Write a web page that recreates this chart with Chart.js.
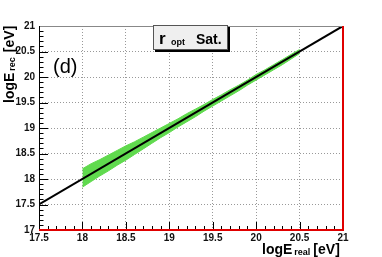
<!DOCTYPE html>
<html>
<head>
<meta charset="utf-8">
<script src="https://cdn.jsdelivr.net/npm/chart.js@4.4.1/dist/chart.umd.min.js"></script>
<style>
  html, body { margin: 0; padding: 0; background: #fff; }
</style>
</head>
<body>
<canvas id="resolution" width="382" height="257"></canvas>
<script>
// band of reconstructed vs real energy (green scatter)
const bandX = [18.0, 18.1, 18.2, 18.3, 18.4, 18.5, 18.6, 18.7, 18.8, 18.9,
  19.0, 19.1, 19.2, 19.3, 19.4, 19.5, 19.6, 19.7, 19.8, 19.9,
  20.0, 20.1, 20.2, 20.3, 20.4, 20.5];
const bandUpper = [18.20, 18.30, 18.38, 18.47, 18.56, 18.65, 18.73, 18.82, 18.91, 19.00,
  19.09, 19.18, 19.28, 19.37, 19.46, 19.56, 19.65, 19.75, 19.84, 19.94,
  20.05, 20.14, 20.24, 20.34, 20.44, 20.54];
const bandLower = [17.84, 17.95, 18.06, 18.16, 18.27, 18.37, 18.48, 18.59, 18.70, 18.81,
  18.91, 19.02, 19.12, 19.22, 19.33, 19.43, 19.53, 19.63, 19.73, 19.84,
  19.94, 20.04, 20.14, 20.24, 20.35, 20.46];

// y = x reference line
const diagX = [17.5, 21];
const diagY = [17.5, 21];

// tick labels
const xTicks = [17.5, 18, 18.5, 19, 19.5, 20, 20.5, 21];
const yTicks = [17, 17.5, 18, 18.5, 19, 19.5, 20, 20.5, 21];

const green = "rgb(96, 218, 78)";
const fontFam = "'Liberation Sans', Arial, Helvetica, sans-serif";

const toPts = (xs, ys) => xs.map((x, i) => ({ x: x, y: ys[i] }));
const fmt = (v) => String(+(+v).toFixed(2));

// frame, minor ticks, titles and the label box, ROOT style
const rootDeco = {
  id: "rootDeco",
  afterDraw(chart) {
    const ctx = chart.ctx;
    const a = chart.chartArea;
    const xs = chart.scales.x;
    const ys = chart.scales.y;
    ctx.save();

    // ticks on left axis
    ctx.strokeStyle = "#000";
    ctx.lineWidth = 1;
    ctx.beginPath();
    for (let i = 0; i <= 40; i++) {
      const v = 17 + i * 0.1;
      const py = Math.round(ys.getPixelForValue(v)) + 0.5;
      const len = i % 5 === 0 ? 9 : 4.5;
      ctx.moveTo(a.left, py);
      ctx.lineTo(a.left + len, py);
    }
    // ticks on bottom axis
    for (let i = 0; i <= 35; i++) {
      const v = 17.5 + i * 0.1;
      const px = Math.round(xs.getPixelForValue(v)) + 0.5;
      const len = i % 5 === 0 ? 8 : 4;
      ctx.moveTo(px, a.bottom);
      ctx.lineTo(px, a.bottom - len);
    }
    ctx.stroke();

    // frame
    ctx.lineWidth = 1;
    ctx.strokeStyle = "#888";
    ctx.beginPath();
    ctx.moveTo(a.left, a.top + 0.5);
    ctx.lineTo(a.right, a.top + 0.5);
    ctx.stroke();
    ctx.strokeStyle = "#000";
    ctx.beginPath();
    ctx.moveTo(a.left + 0.5, a.top);
    ctx.lineTo(a.left + 0.5, a.bottom);
    ctx.stroke();
    ctx.strokeStyle = "#e00000";
    ctx.lineWidth = 2;
    ctx.beginPath();
    ctx.moveTo(a.left, a.bottom);
    ctx.lineTo(a.right + 1, a.bottom);
    ctx.moveTo(a.right, a.top);
    ctx.lineTo(a.right, a.bottom);
    ctx.stroke();

    ctx.fillStyle = "#000";
    ctx.textBaseline = "alphabetic";
    ctx.textAlign = "left";

    // x title: logE_real [eV]
    let x = 262;
    const yb = 254;
    ctx.font = "bold 14px " + fontFam;
    ctx.fillText("logE", x, yb);
    x += ctx.measureText("logE").width + 2;
    ctx.font = "bold 9px " + fontFam;
    ctx.fillText("real", x, yb + 1);
    x += ctx.measureText("real").width + 3;
    ctx.font = "bold 14px " + fontFam;
    ctx.fillText("[eV]", x, yb);

    // y title: logE_rec [eV], rotated
    ctx.save();
    ctx.translate(14, 103);
    ctx.rotate(-Math.PI / 2);
    x = 0;
    ctx.font = "bold 14px " + fontFam;
    ctx.fillText("logE", x, 0);
    x += ctx.measureText("logE").width + 2;
    ctx.font = "bold 9px " + fontFam;
    ctx.fillText("rec", x, 1);
    x += ctx.measureText("rec").width + 5;
    ctx.font = "bold 14px " + fontFam;
    ctx.fillText("[eV]", x, 0);
    ctx.restore();

    // (d)
    ctx.font = "20px " + fontFam;
    ctx.fillText("(d)", 53, 73);

    // label box with shadow
    const bx = 153, by = 25, bw = 75, bh = 25;
    ctx.fillStyle = "#000";
    ctx.fillRect(bx + 2, by + 2, bw, bh);
    ctx.fillStyle = "#efefef";
    ctx.fillRect(bx, by, bw, bh);
    ctx.strokeStyle = "#555";
    ctx.lineWidth = 1;
    ctx.strokeRect(bx + 0.5, by + 0.5, bw - 1, bh - 1);
    ctx.fillStyle = "#000";
    ctx.font = "bold 17px " + fontFam;
    ctx.fillText("r", 159, 44);
    ctx.font = "bold 9px " + fontFam;
    ctx.fillText("opt", 171, 45);
    ctx.font = "bold 14px " + fontFam;
    ctx.fillText("Sat.", 196, 44);

    ctx.restore();
  }
};

const ctxRes = document.getElementById("resolution").getContext("2d");

const resChart = new Chart(ctxRes, {
  type: "scatter",
  data: {
    datasets: [
      {
        label: "y=x",
        data: toPts(diagX, diagY),
        showLine: true,
        borderColor: "#000",
        borderWidth: 2,
        pointRadius: 0,
        fill: false,
        order: 0,
      },
      {
        label: "upper",
        data: toPts(bandX, bandUpper),
        showLine: true,
        borderColor: green,
        borderWidth: 1,
        pointRadius: 0,
        backgroundColor: green,
        fill: "+1",
        order: 1,
      },
      {
        label: "lower",
        data: toPts(bandX, bandLower),
        showLine: true,
        borderColor: green,
        borderWidth: 1,
        pointRadius: 0,
        fill: false,
        order: 2,
      },
    ],
  },
  options: {
    responsive: false,
    animation: false,
    layout: { padding: { left: 0, top: 26, right: 39, bottom: 0 } },
    plugins: {
      legend: { display: false },
      tooltip: { enabled: false },
    },
    scales: {
      x: {
        type: "linear",
        min: 17.5,
        max: 21,
        afterBuildTicks: (s) => { s.ticks = xTicks.map((v) => ({ value: v })); },
        afterFit: (s) => { s.height = 27; },
        ticks: {
          callback: fmt,
          padding: 2,
          maxRotation: 0,
          autoSkip: false,
          color: "#111",
          font: { family: fontFam, size: 10, weight: "bold" },
        },
        grid: { color: "#999", lineWidth: 1, drawTicks: false },
        border: { display: false, dash: [1, 2] },
      },
      y: {
        type: "linear",
        min: 17,
        max: 21,
        afterBuildTicks: (s) => { s.ticks = yTicks.map((v) => ({ value: v })); },
        afterFit: (s) => { s.width = 39; },
        ticks: {
          callback: fmt,
          padding: 4,
          autoSkip: false,
          color: "#111",
          font: { family: fontFam, size: 10, weight: "bold" },
        },
        grid: { color: "#999", lineWidth: 1, drawTicks: false },
        border: { display: false, dash: [1, 2] },
      },
    },
  },
  plugins: [rootDeco],
});
</script>
</body>
</html>
